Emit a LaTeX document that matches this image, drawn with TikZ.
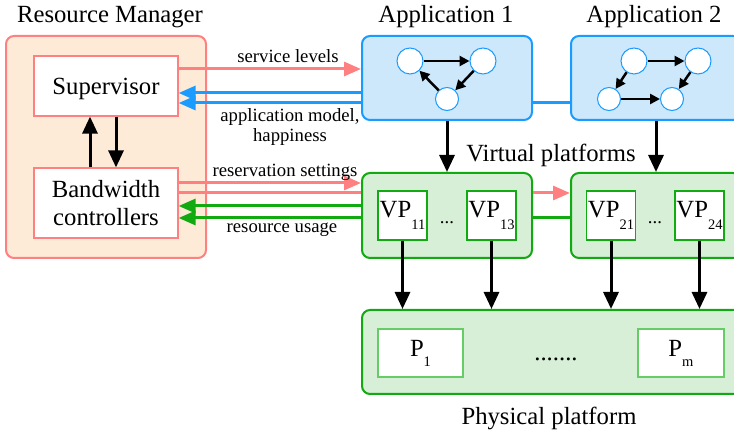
\documentclass[tikz,border=0pt]{standalone}
\usepackage{fontspec}
\setmainfont{Liberation Serif}
\usetikzlibrary{arrows.meta}
\definecolor{rmred}{HTML}{FF8080}
\definecolor{rmfill}{HTML}{FDEBD8}
\definecolor{appblue}{HTML}{1A9BFF}
\definecolor{appfill}{HTML}{CCE8FA}
\definecolor{vpgreen}{HTML}{11AA11}
\definecolor{vpfill}{HTML}{D6EFD6}
\definecolor{pgreen}{HTML}{66CC66}
\tikzset{
	bigtxt/.style={font=\fontsize{24.7}{28}\selectfont},
	smalltxt/.style={font=\fontsize{18.7}{20}\selectfont},
	outerbox/.style={draw, rounded corners=8pt, line width=2pt},
	innerbox/.style={draw, fill=white, line width=1.2pt, inner sep=0pt, bigtxt},
	task/.style={circle, draw=appblue, fill=white, line width=1pt, inner sep=0pt},
	link/.style={line width=3pt},
	bigarrow/.style={line width=3pt, -{Triangle[width=15pt,length=17pt]}},
	colarrow/.style={line width=3pt, -{Triangle[width=14pt,length=17pt]}},
	smallarrow/.style={line width=2.5pt, -{Triangle[width=10pt,length=10pt]}}
}
\newcommand{\subidx}[2]{\raisebox{-#1}{\fontsize{14.5}{14.5}\selectfont #2}}
\begin{document}
\begin{tikzpicture}[x={(1pt,0pt)}, y={(0pt,-1pt)}] % pixel coordinates, y down
		
		\useasboundingbox (0,0) rectangle (734,435);
		\clip (0,0) rectangle (734,435);
		
		% resource manager
		\node[outerbox, draw=rmred, fill=rmfill, minimum width=200, minimum height=222] (rm) at (106,147) {};
		\node[bigtxt, anchor=base] (rmtitle) at (110,23) {Resource Manager};
		\node[innerbox, draw=rmred, minimum width=144, minimum height=60, text depth=0pt] (sup) at (106,86) {Supervisor};
		\node[innerbox, draw=rmred, minimum width=144, minimum height=70, align=center] (bw) at (106,203) {Bandwidth\\controllers};
		\draw[bigarrow] ([xshift=-16pt]bw.north) -- ([xshift=-16pt]sup.south);
		\draw[bigarrow] ([xshift=10pt]sup.south) -- ([xshift=10pt]bw.north);
		
		% applications
		\node[outerbox, draw=appblue, fill=appfill, minimum width=170, minimum height=84] (app1) at (447,78) {};
		\node[outerbox, draw=appblue, fill=appfill, minimum width=170, minimum height=84] (app2) at (656,78) {};
		\node[bigtxt, anchor=base] (app1title) at (446,23) {Application 1};
		\node[bigtxt, anchor=base] (app2title) at (654,23) {Application 2};
		
		\node[task, minimum size=26] (a1) at (410,61) {};
		\node[task, minimum size=26] (a2) at (483,61) {};
		\node[task, minimum size=23] (a3) at (447,99) {};
		\draw[smallarrow] (a1) -- (a2);
		\draw[smallarrow] (a2) -- (a3);
		\draw[smallarrow] (a3) -- (a1);
		
		\node[task, minimum size=26] (b1) at (634,61) {};
		\node[task, minimum size=26] (b2) at (698,61) {};
		\node[task, minimum size=23] (b3) at (609,99) {};
		\node[task, minimum size=23] (b4) at (672,99) {};
		\draw[smallarrow] (b1) -- (b2);
		\draw[smallarrow] (b1) -- (b3);
		\draw[smallarrow] (b2) -- (b4);
		\draw[smallarrow] (b3) -- (b4);
		
		% virtual platforms
		\node[outerbox, draw=vpgreen, fill=vpfill, minimum width=170, minimum height=85] (vp1) at (447,215.5) {};
		\node[outerbox, draw=vpgreen, fill=vpfill, minimum width=170, minimum height=85] (vp2) at (656,215.5) {};
		\node[bigtxt, anchor=base] (vptitle) at (551,162) {Virtual platforms};
		\node[innerbox, draw=vpgreen, minimum size=49] (vp11) at (402.5,215.5) {VP\subidx{12pt}{11}};
		\node[innerbox, draw=vpgreen, minimum size=49] (vp13) at (491.5,215.5) {VP\subidx{12pt}{13}};
		\node[innerbox, draw=vpgreen, minimum size=49] (vp21) at (611,215.5) {VP\subidx{12pt}{21}};
		\node[innerbox, draw=vpgreen, minimum size=49] (vp24) at (699.5,215.5) {VP\subidx{12pt}{24}};
		\node[smalltxt, anchor=base] (vpdots1) at (447,224) {...};
		\node[smalltxt, anchor=base] (vpdots2) at (655,224) {...};
		
		% physical platform
		\node[outerbox, draw=vpgreen, fill=vpfill, minimum width=400, minimum height=84] (phys) at (562,352) {};
		\node[bigtxt, anchor=base] (phystitle) at (549,425) {Physical platform};
		\node[innerbox, draw=pgreen, minimum width=85, minimum height=48] (p1) at (420.5,353) {P\subidx{10pt}{1}};
		\node[innerbox, draw=pgreen, minimum width=86, minimum height=48] (pm) at (681,353) {P\subidx{10pt}{m}};
		\node[bigtxt, anchor=base] (pdots) at (556,361) {.......};
		
		% mapping arrows
		\draw[bigarrow] (app1.south) -- (vp1.north);
		\draw[bigarrow] (app2.south) -- (vp2.north);
		\foreach \v in {vp11,vp13,vp21,vp24}
		\draw[bigarrow] (\v.south) -- (\v.south |- phys.north);
		
		% supervisor <-> applications
		\draw[colarrow, rmred] ([yshift=17pt]sup.east) -- ([yshift=17pt]sup.east -| app1.west);
		\draw[colarrow, appblue] ([yshift=-7pt]sup.east -| app1.west) -- ([yshift=-7pt]sup.east);
		\draw[colarrow, appblue] ([yshift=-17pt]sup.east -| app1.west) -- ([yshift=-17pt]sup.east);
		\draw[link, appblue] ([yshift=-17pt]sup.east -| app1.east) -- ([yshift=-17pt]sup.east -| app2.west);
		\node[smalltxt, anchor=base] (lsl) at (288,63) {service levels};
		\node[smalltxt, align=center] (lam) at (290,127) {application model,\\happiness};
		
		% controllers <-> virtual platforms
		\draw[colarrow, rmred] ([yshift=20pt]bw.east) -- ([yshift=20pt]bw.east -| vp1.west);
		\draw[link, rmred] ([yshift=10pt]bw.east) -- ([yshift=10pt]bw.east -| vp1.west);
		\draw[colarrow, rmred] ([yshift=10pt]bw.east -| vp1.east) -- ([yshift=10pt]bw.east -| vp2.west);
		\draw[colarrow, vpgreen] ([yshift=-3pt]bw.east -| vp1.west) -- ([yshift=-3pt]bw.east);
		\draw[colarrow, vpgreen] ([yshift=-15pt]bw.east -| vp1.west) -- ([yshift=-15pt]bw.east);
		\draw[link, vpgreen] ([yshift=-15pt]bw.east -| vp1.east) -- ([yshift=-15pt]bw.east -| vp2.west);
		\node[smalltxt, anchor=base] (lrs) at (285,177) {reservation settings};
		\node[smalltxt, anchor=base] (lru) at (282,233) {resource usage};
		
\end{tikzpicture}
\end{document}
